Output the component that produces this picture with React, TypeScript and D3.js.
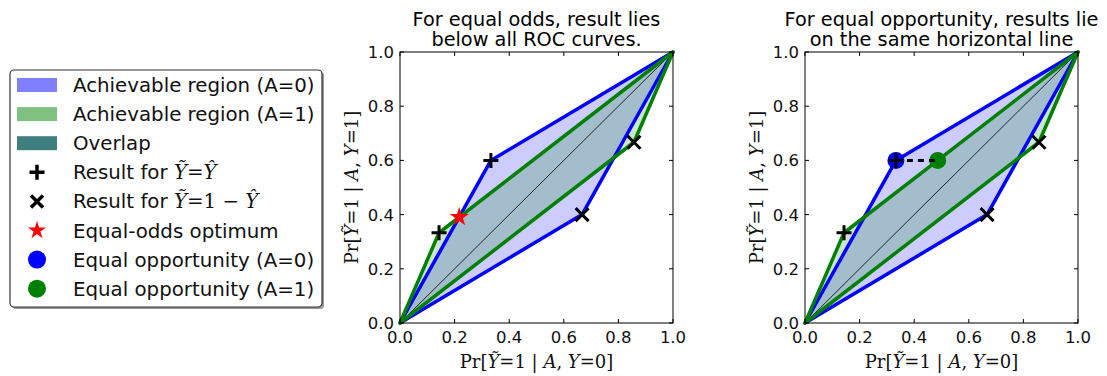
import React from "react";
import * as d3 from "d3";

// ---- data ----
const rocA0: [number, number][] = [[0, 0], [0.333, 0.6], [1, 1], [0.667, 0.4]];
const rocA1: [number, number][] = [[0, 0], [0.143, 0.333], [1, 1], [0.857, 0.667]];
const plusPoints: [number, number][] = [[0.333, 0.6], [0.143, 0.333]];
const crossPoints: [number, number][] = [[0.667, 0.4], [0.857, 0.667]];
const eqOddsStar: [number, number] = [0.217, 0.391];
const eqOppA0: [number, number] = [0.333, 0.6];
const eqOppA1: [number, number] = [0.486, 0.6];
const tickValues = [0, 0.2, 0.4, 0.6, 0.8, 1.0];
const titles = [
  ["For equal odds, result lies", "below all ROC curves."],
  ["For equal opportunity, results lie", "on the same horizontal line"],
];
const legendLabels = [
  "Achievable region (A=0)",
  "Achievable region (A=1)",
  "Overlap",
  "Result for ",
  "Result for ",
  "Equal-odds optimum",
  "Equal opportunity (A=0)",
  "Equal opportunity (A=1)",
];

const SANS = "'DejaVu Sans', sans-serif";
const SERIF = "'DejaVu Serif', serif";
const BLUE = "#0000ff";
const GREEN = "#008000";

const plusPath = (r: number) => `M${-r},0H${r}M0,${-r}V${r}`;
const crossPath = (r: number) => `M${-r},${-r}L${r},${r}M${-r},${r}L${r},${-r}`;

function MathLabel({ which }: { which: string }) {
  return (
    <>
      <tspan>Pr[</tspan>
      <tspan fontStyle="italic">Ỹ</tspan>
      <tspan>=1 | </tspan>
      <tspan fontStyle="italic">A</tspan>
      <tspan>, </tspan>
      <tspan fontStyle="italic">Y</tspan>
      <tspan>={which}]</tspan>
    </>
  );
}

function Panel({ left, idx }: { left: number; idx: number }) {
  const top = 52;
  const W = 273;
  const H = 271;
  const x = d3.scaleLinear().domain([0, 1]).range([left, left + W]);
  const y = d3.scaleLinear().domain([0, 1]).range([top + H, top]);
  const poly = d3
    .line<[number, number]>()
    .x((d) => x(d[0]))
    .y((d) => y(d[1]))
    .curve(d3.curveLinearClosed);
  const cx = left + W / 2;
  const cy = top + H / 2;
  return (
    <g>
      <path d={poly(rocA0) || ""} fill={BLUE} fillOpacity={0.2} stroke="none" />
      <path d={poly(rocA1) || ""} fill={GREEN} fillOpacity={0.2} stroke="none" />
      <line x1={x(0)} y1={y(0)} x2={x(1)} y2={y(1)} stroke="#000" strokeWidth={1} opacity={0.8} />
      <path d={poly(rocA0) || ""} fill="none" stroke={BLUE} strokeWidth={3.5} strokeLinejoin="round" />
      <path d={poly(rocA1) || ""} fill="none" stroke={GREEN} strokeWidth={3.5} strokeLinejoin="round" />
      {idx === 1 && (
        <>
          <circle cx={x(eqOppA0[0])} cy={y(eqOppA0[1])} r={8.5} fill={BLUE} />
          <circle cx={x(eqOppA1[0])} cy={y(eqOppA1[1])} r={8.5} fill={GREEN} />
          <line
            x1={x(eqOppA0[0])}
            y1={y(eqOppA0[1])}
            x2={x(eqOppA1[0])}
            y2={y(eqOppA1[1])}
            stroke="#000"
            strokeWidth={3}
            strokeDasharray="6,5"
          />
        </>
      )}
      {plusPoints.map((p, i) => (
        <path key={"p" + i} d={plusPath(7.5)} transform={`translate(${x(p[0])},${y(p[1])})`} stroke="#000" strokeWidth={3} fill="none" />
      ))}
      {crossPoints.map((p, i) => (
        <path key={"c" + i} d={crossPath(6.5)} transform={`translate(${x(p[0])},${y(p[1])})`} stroke="#000" strokeWidth={3} fill="none" />
      ))}
      {idx === 0 && (
        <path
          d={d3.symbol(d3.symbolStar, 115)() || ""}
          transform={`translate(${x(eqOddsStar[0])},${y(eqOddsStar[1])})`}
          fill="#ff0000"
        />
      )}
      <rect x={left} y={top} width={W} height={H} fill="none" stroke="#000" strokeWidth={1} />
      {tickValues.map((t) => (
        <g key={t}>
          <line x1={x(t)} x2={x(t)} y1={top + H} y2={top + H - 4} stroke="#000" />
          <line x1={x(t)} x2={x(t)} y1={top} y2={top + 4} stroke="#000" />
          <line x1={left} x2={left + 4} y1={y(t)} y2={y(t)} stroke="#000" />
          <line x1={left + W} x2={left + W - 4} y1={y(t)} y2={y(t)} stroke="#000" />
          <text x={x(t)} y={top + H + 19.5} textAnchor="middle" fontFamily={SANS} fontSize={16.5} fill="#111">
            {d3.format(".1f")(t)}
          </text>
          <text x={left - 6} y={y(t) + 6} textAnchor="end" fontFamily={SANS} fontSize={16.5} fill="#111">
            {d3.format(".1f")(t)}
          </text>
        </g>
      ))}
      <text x={cx} y={26} textAnchor="middle" fontFamily={SANS} fontSize={19.3} fill="#000">
        {titles[idx][0]}
      </text>
      <text x={cx} y={46} textAnchor="middle" fontFamily={SANS} fontSize={19.3} fill="#000">
        {titles[idx][1]}
      </text>
      <text x={cx} y={368} textAnchor="middle" fontFamily={SERIF} fontSize={18} fill="#111">
        <MathLabel which="0" />
      </text>
      <text
        transform={`translate(${left - 42},${cy}) rotate(-90)`}
        textAnchor="middle"
        fontFamily={SERIF}
        fontSize={18}
        fill="#111"
      >
        <MathLabel which="1" />
      </text>
    </g>
  );
}

function Legend() {
  const bx = 10, by = 70, bw = 312, bh = 237;
  const row0 = 85, step = 29.1;
  const tx = 73;
  const mx = 37;
  const patchColors = ["#8080ff", "#80c080", "#3f7f7f"];
  return (
    <g>
      <rect x={bx + 2} y={by + 2} width={bw} height={bh} rx={4} fill="#999" />
      <rect x={bx} y={by} width={bw} height={bh} rx={4} fill="#fff" stroke="#333" strokeWidth={1.2} />
      {legendLabels.map((lab, i) => {
        const cy = row0 + i * step;
        let marker: React.ReactNode = null;
        if (i < 3) {
          marker = <rect x={17} y={cy - 7} width={40} height={14} fill={patchColors[i]} />;
        } else if (i === 3) {
          marker = <path d={plusPath(7.5)} transform={`translate(${mx},${cy})`} stroke="#000" strokeWidth={3.5} fill="none" />;
        } else if (i === 4) {
          marker = <path d={crossPath(6)} transform={`translate(${mx},${cy})`} stroke="#000" strokeWidth={3.5} fill="none" />;
        } else if (i === 5) {
          marker = <path d={d3.symbol(d3.symbolStar, 100)() || ""} transform={`translate(${mx},${cy})`} fill="#ff0000" />;
        } else {
          marker = <circle cx={mx} cy={cy} r={9} fill={i === 6 ? BLUE : GREEN} />;
        }
        return (
          <g key={i}>
            {marker}
            <text x={tx} y={cy + 7} fontFamily={SANS} fontSize={19.8} fill="#111">
              {lab}
              {i === 3 && (
                <tspan fontFamily={SERIF}>
                  <tspan fontStyle="italic">Ỹ</tspan>=<tspan fontStyle="italic">Ŷ</tspan>
                </tspan>
              )}
              {i === 4 && (
                <tspan fontFamily={SERIF}>
                  <tspan fontStyle="italic">Ỹ</tspan>=1 − <tspan fontStyle="italic">Ŷ</tspan>
                </tspan>
              )}
            </text>
          </g>
        );
      })}
    </g>
  );
}

export default function App() {
  return (
    <svg
      width={1107}
      height={376}
      style={{ position: "absolute", left: 0, top: 0, background: "#fff" }}
    >
      <rect width={1107} height={376} fill="#fff" />
      <Legend />
      <Panel left={400} idx={0} />
      <Panel left={805} idx={1} />
    </svg>
  );
}
